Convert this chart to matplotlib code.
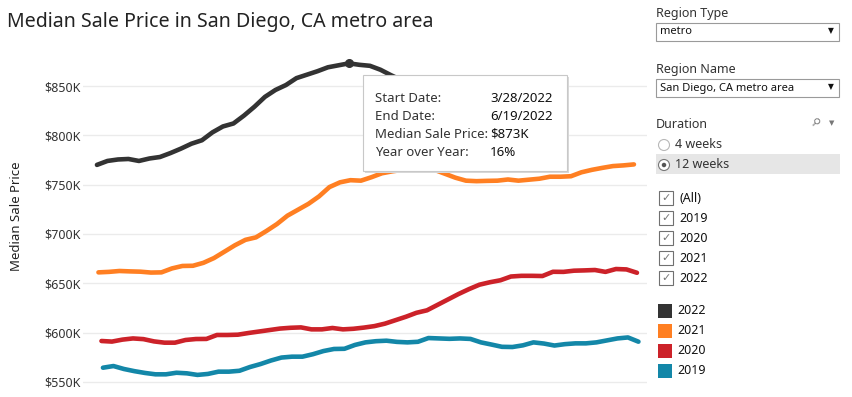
import matplotlib
matplotlib.use("Agg")
import matplotlib.pyplot as plt
import matplotlib.patches as mpatches
from matplotlib.ticker import FuncFormatter
import pandas as pd

plt.rcParams["font.family"] = ["Noto Sans", "DejaVu Sans"]

W, H = 852, 397

# weekly 12-week median sale price, thousands of dollars
price_2022 = [770, 774, 775.5, 776, 774, 776.5, 778, 782, 786.5, 791.5, 795, 803,
              809, 812, 820, 829, 839, 846, 851, 858, 861.5, 865, 869, 871, 873,
              871.5, 870.5, 866.5, 861, 856]
price_2021 = [661, 661.5, 662.4, 662, 661.7, 660.8, 661, 665, 667.5, 667.7, 670.7,
              675.5, 682, 688.5, 694, 696.5, 703, 710, 718.5, 724.5, 730.5, 738,
              747.5, 752.3, 754.5, 754, 757.5, 761.5, 763.5, 765, 766, 766, 765,
              761, 757, 754, 753.5, 753.8, 754, 755.2, 754, 755, 756, 758, 758,
              758.5, 762.5, 765, 767, 768.8, 769.5, 770.5]
price_2020 = [591.4, 590.8, 592.8, 594, 593.3, 591, 589.7, 589.7, 592.4, 593.4,
              593.5, 597.5, 597.5, 597.8, 599.5, 601, 602.5, 604, 604.8, 605.2,
              603.2, 603.2, 604.6, 603.2, 603.8, 605, 606.5, 609, 612.5, 616, 620,
              622.5, 628, 633.5, 639, 644, 648.5, 651, 653, 656.8, 657.5, 657.5,
              657.3, 661.6, 661.5, 662.7, 663, 663.4, 661.5, 664.4, 664, 660.6]
price_2019 = [564.3, 566, 563, 560.8, 559, 557.6, 557.6, 559.2, 558.6, 557, 558,
              560.3, 560.3, 561.2, 565, 568, 571.6, 574.6, 575.5, 575.5, 578, 581.2,
              583.3, 583.5, 587.4, 590, 591.2, 591.7, 590.5, 590, 590.6, 594.4, 594,
              593.6, 594, 593.5, 590, 587.8, 585.5, 585.3, 587, 590, 588.8, 586.8,
              588.2, 589, 589, 590, 592, 594, 595, 590.7]
first_week = {"2019": "2019-01-06", "2020": "2020-01-05",
              "2021": "2021-01-03", "2022": "2022-01-02"}
series = {"2019": price_2019, "2020": price_2020, "2021": price_2021, "2022": price_2022}
colors = {"2022": "#333333", "2021": "#ff7f22", "2020": "#cc2229", "2019": "#1387a8"}
yticks = [550, 600, 650, 700, 750, 800, 850]

fig = plt.figure(figsize=(W / 100, H / 100), dpi=100)


def fx(x):
    return x / W


def fy(y):
    return 1 - y / H


ax = fig.add_axes([fx(83), 0, fx(647) - fx(83), fy(45)])
for yr in ["2019", "2020", "2021", "2022"]:
    days = pd.date_range(first_week[yr], periods=len(series[yr]), freq="7D").dayofyear
    ax.plot(days, series[yr], color=colors[yr], lw=3.3, solid_capstyle="round",
            solid_joinstyle="round", zorder=3)
    if yr == "2022":
        peak = max(series[yr])
        ax.plot(days[series[yr].index(peak)], peak, "o", color=colors[yr], ms=5.5, zorder=4)

ax.set_xlim(-7.3, 368.7)
ax.set_ylim(534.6, 891.6)
ax.set_yticks(yticks)
ax.yaxis.set_major_formatter(FuncFormatter(lambda v, p: f"${v:.0f}K"))
ax.set_xticks([])
ax.grid(axis="y", color="#ebebeb", lw=1)
ax.tick_params(axis="y", length=0, labelsize=9, colors="#333333", pad=2)
for s in ax.spines.values():
    s.set_visible(False)

fig.text(fx(7), fy(22), "Median Sale Price in San Diego, CA metro area",
         fontsize=14.1, color="#222222", va="center")
fig.text(fx(17), fy(216), "Median Sale Price", rotation=90, fontsize=9.5,
         color="#222222", ha="center", va="center")

# tooltip
fig.patches.append(mpatches.Rectangle((fx(365), fy(173)), fx(204), fy(0) - fy(96),
                                      transform=fig.transFigure, facecolor="#d8d8d8",
                                      edgecolor="none", zorder=5))
fig.patches.append(mpatches.Rectangle((fx(363), fy(171)), fx(204), fy(0) - fy(96),
                                      transform=fig.transFigure, facecolor="white",
                                      edgecolor="#c8c8c8", lw=0.8, zorder=6))
tip_labels = ["Start Date:", "End Date:", "Median Sale Price:", "Year over Year:"]
tip_values = ["3/28/2022", "6/19/2022", "$873K", "16%"]
for i, (lab, val) in enumerate(zip(tip_labels, tip_values)):
    yy = fy(98 + 18 * i)
    fig.text(fx(375), yy, lab, fontsize=9.5, color="#333333", va="center", zorder=7)
    fig.text(fx(490), yy, val, fontsize=9.5, color="#111111", va="center", zorder=7)

# right panel
panel_color = "#333333"
fig.text(fx(656), fy(13), "Region Type", fontsize=9, color=panel_color, va="center")
fig.text(fx(656), fy(69), "Region Name", fontsize=9, color=panel_color, va="center")
dropdowns = [(23, "metro"), (79, "San Diego, CA metro area")]
for top, txt in dropdowns:
    fig.patches.append(mpatches.Rectangle((fx(656), fy(top + 18)), fx(183), fy(0) - fy(18),
                                          transform=fig.transFigure, facecolor="white",
                                          edgecolor="#9a9a9a", lw=0.8))
    fig.text(fx(660), fy(top + 9), txt, fontsize=8, color="#111111", va="center")
    fig.text(fx(831), fy(top + 9), "▼", fontsize=5.5, color="#111111", va="center", ha="center")

fig.text(fx(656), fy(125), "Duration", fontsize=9, color=panel_color, va="center")
fig.text(fx(815), fy(123), "⚲", fontsize=8, color="#777777", va="center", ha="center",
         rotation=-45)
fig.text(fx(832), fy(124), "▼", fontsize=5, color="#777777", va="center", ha="center")
fig.patches.append(mpatches.Rectangle((fx(656), fy(174)), fx(184), fy(0) - fy(20),
                                      transform=fig.transFigure, facecolor="#e6e6e6",
                                      edgecolor="none"))
radios = [(145, "4 weeks", False), (165, "12 weeks", True)]
for yy, txt, on in radios:
    fig.patches.append(mpatches.Ellipse((fx(664), fy(yy)), 11 / W, 11 / H,
                                        transform=fig.transFigure, facecolor="white",
                                        edgecolor="#777777" if on else "#b8b8b8", lw=0.8))
    if on:
        fig.patches.append(mpatches.Ellipse((fx(664), fy(yy)), 4.5 / W, 4.5 / H,
                                            transform=fig.transFigure, facecolor="#555555",
                                            edgecolor="none"))
    fig.text(fx(675), fy(yy), txt, fontsize=9, color=panel_color, va="center")

filters = ["(All)", "2019", "2020", "2021", "2022"]
for i, txt in enumerate(filters):
    yy = 198 + 20 * i
    fig.patches.append(mpatches.Rectangle((fx(659), fy(yy + 7)), fx(14), fy(0) - fy(14),
                                          transform=fig.transFigure, facecolor="white",
                                          edgecolor="#707070", lw=0.8))
    fig.text(fx(666), fy(yy), "✓", fontsize=8, color="#777777", va="center", ha="center")
    fig.text(fx(679), fy(yy), txt, fontsize=9, color="#111111", va="center")

legend_years = ["2022", "2021", "2020", "2019"]
for i, yr in enumerate(legend_years):
    yy = 311 + 20 * i
    fig.patches.append(mpatches.Rectangle((fx(658), fy(yy + 7)), fx(14), fy(0) - fy(14),
                                          transform=fig.transFigure, facecolor=colors[yr],
                                          edgecolor="none"))
    fig.text(fx(677), fy(yy), yr, fontsize=9, color="#111111", va="center")

fig.savefig("out.png", dpi=100)
